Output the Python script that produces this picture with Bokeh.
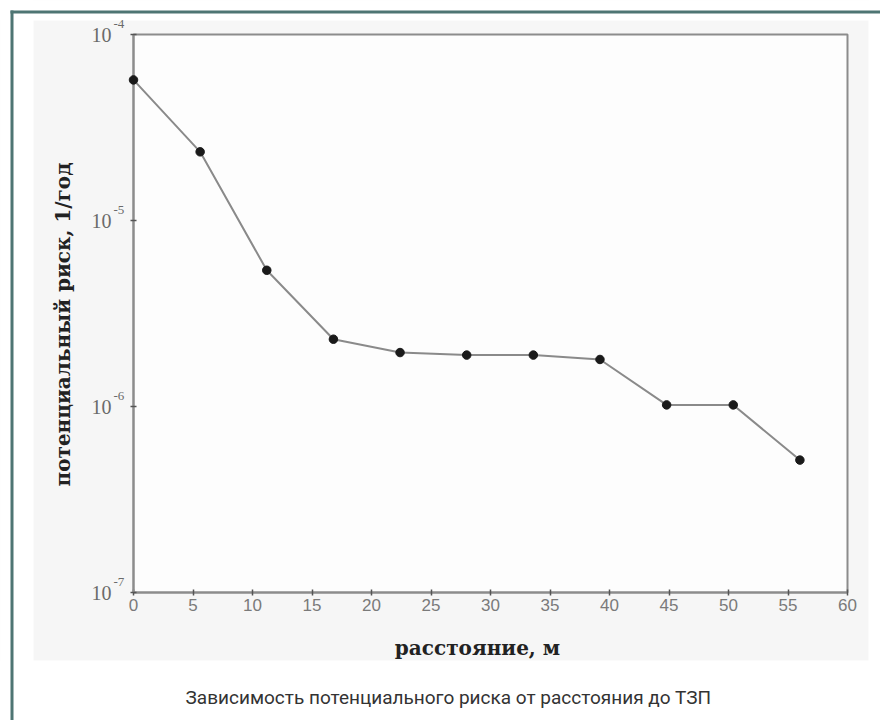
import math
from bokeh.plotting import figure
from bokeh.models import (FixedTicker, ColumnDataSource, Range1d,
                          CustomJSTickFormatter)
from bokeh.core.properties import value
from bokeh.embed import file_html
from bokeh.resources import INLINE

# Potential risk vs. distance to the fuel station
distance_m = [0.0, 5.6, 11.2, 16.8, 22.4, 28.0, 33.6, 39.2, 44.8, 50.4, 56.0]
risk_per_year = [5.7e-5, 2.34e-5, 5.4e-6, 2.3e-6, 1.95e-6, 1.89e-6,
                 1.89e-6, 1.79e-6, 1.02e-6, 1.02e-6, 5.15e-7]

x_ticks = [0, 5, 10, 15, 20, 25, 30, 35, 40, 45, 50, 55, 60]
y_ticks = [1e-7, 1e-6, 1e-5, 1e-4]
y_tick_base = ["10", "10", "10", "10"]
y_tick_exp = ["-7", "-6", "-5", "-4"]

x_title = "расстояние, м"
y_title = "потенциальный риск, 1/год"
caption = "Зависимость потенциального риска от расстояния до ТЗП"

SERIF = "Liberation Serif"
TITLE_SERIF = "DejaVu Serif"
AXIS_GREY = "#8c8c8c"
PANEL = "#f6f6f6"
FRAME_TEAL = "#4e7573"

# canvas and plot-frame geometry (pixels)
W, H = 880, 720
FL, FR, FT, FB = 133, 847, 34, 592
X_LO, X_HI = 0, 60
LOG_LO, LOG_HI = -7, -4

fig = figure(width=W, height=H, y_axis_type="log",
             x_range=Range1d(X_LO, X_HI), y_range=Range1d(10**LOG_LO, 10**LOG_HI),
             output_backend="svg", toolbar_location=None, tools="",
             min_border_left=FL, min_border_right=W - FR,
             min_border_top=FT, min_border_bottom=H - FB,
             border_fill_color=PANEL, background_fill_color="#fdfdfd",
             outline_line_color=AXIS_GREY, outline_line_width=2)
fig.grid.visible = False


def dx(px):
    """canvas x pixel -> data x"""
    return X_LO + (px - FL) / (FR - FL) * (X_HI - X_LO)


def dy(py):
    """canvas y pixel -> data y on the log axis"""
    return 10 ** (LOG_HI - (py - FT) / (FB - FT) * (LOG_HI - LOG_LO))


# axes
fig.xaxis.ticker = FixedTicker(ticks=x_ticks, minor_ticks=[])
fig.yaxis.ticker = FixedTicker(ticks=y_ticks, minor_ticks=[])
fig.yaxis.formatter = CustomJSTickFormatter(code="return ''")
for ax in (fig.xaxis, fig.yaxis):
    ax.axis_line_color = AXIS_GREY
    ax.axis_line_width = 2
    ax.major_tick_line_color = "#555555"
    ax.major_tick_line_width = 1.5
    ax.major_tick_in = 3
    ax.major_tick_out = 3
    ax.minor_tick_line_color = None

fig.xaxis.major_label_text_font = "Liberation Sans"
fig.xaxis.major_label_text_font_size = "17px"
fig.xaxis.major_label_text_color = "#7a7a7a"
fig.xaxis.major_label_standoff = 3

# data
src = ColumnDataSource(dict(x=distance_m, y=risk_per_year))
fig.line("x", "y", source=src, line_color="#8a8a8a", line_width=2)
fig.scatter("x", "y", source=src, marker="circle", size=8.5,
            fill_color="#1a1a1a", line_color="#1a1a1a", level="overlay")

# white page around the grey panel, and the teal page frame
def block(l, r, t, b, color):
    fig.quad(left=[dx(l)], right=[dx(r)], top=[dy(t)], bottom=[dy(b)],
             fill_color=color, line_color=None, level="overlay")

block(0, 33, 0, H, "white")
block(0, W, 0, 20, "white")
block(868, W, 0, H, "white")
block(0, W, 660, H, "white")
block(10, 13, 10, H, FRAME_TEAL)
block(10, W, 10, 13, FRAME_TEAL)

# y tick labels: 10 with a superscript exponent
ysrc = ColumnDataSource(dict(x=[X_LO] * len(y_ticks), y=y_ticks,
                             base=y_tick_base, exp=y_tick_exp))
fig.text("x", "y", text="base", source=ysrc, x_offset=-22, y_offset=0,
         text_align="right", text_baseline="middle",
         text_font=value(SERIF), text_font_size="20px",
         text_color="#6a6a6a", level="overlay")
fig.text("x", "y", text="exp", source=ysrc, x_offset=-20, y_offset=-11,
         text_align="left", text_baseline="middle",
         text_font=value(SERIF), text_font_size="13px",
         text_color="#6a6a6a", level="overlay")

# axis titles
fig.text(x=[dx(477)], y=[dy(647)], text=[x_title],
         text_align="center", text_baseline="middle",
         text_font=value(TITLE_SERIF), text_font_style="bold",
         text_font_size="20px", text_color="#222222", level="overlay")
fig.text(x=[dx(62)], y=[dy(324)], text=[y_title], angle=math.pi / 2,
         text_align="center", text_baseline="middle",
         text_font=value(TITLE_SERIF), text_font_style="bold",
         text_font_size="20px", text_color="#222222", level="overlay")

# caption under the panel
fig.text(x=[dx(448)], y=[dy(697)], text=[caption],
         text_align="center", text_baseline="middle",
         text_font=value("Roboto"), text_font_size="19px",
         text_color="#333333", level="overlay")

p = fig
open("out.html", "w").write(file_html(p, INLINE))
